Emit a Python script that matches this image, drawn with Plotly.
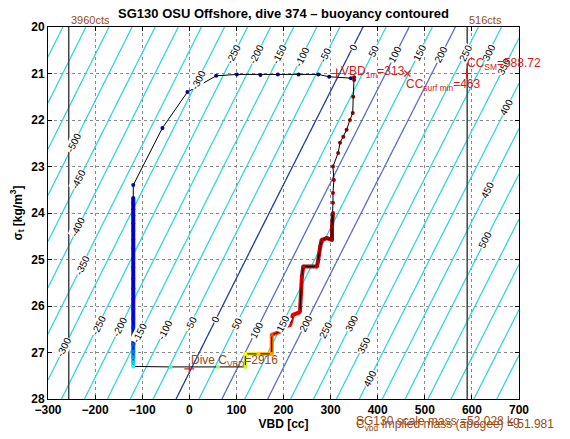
import numpy as np
import plotly.graph_objects as go

# ---------------- text / constants ----------------
title_text = "SG130 OSU Offshore, dive 374 – buoyancy contoured"
scale_mass_kg = 52.028
implied_mass_kg = 51.981
hull_volume_cc = 50639.0      # displaced volume at VBD = 0
vbd_1m = 313
cc_surf_min = 463
cc_sm = 588.72
dive_c_vbd = 2916
vbd_limit_low = -256          # 3960 cts
vbd_limit_high = 590          # 516 cts
marker_sigma = 21.0
apogee_marker_sigma = 27.35

# contour levels (g)
level_start, level_end, level_step = -700, 750, 50

# contour label placements: level and the sigma_t where it sits
label_levels = [-300, -250, -200, -150, -100, -50, 0, 50, 100, 150, 200, 250, 300, 350, 400,
                -500, -450, -400, -350, -300,
                -250, -200, -150, -100, -50, 0, 50, 100, 150, 200, 250, 300, 350, 400,
                450, 500]
label_sigmas = [21.14, 20.60, 20.60, 20.60, 20.65, 20.60, 20.43, 20.51, 20.60, 20.56, 20.60,
                20.56, 20.54, 20.86, 21.72,
                22.49, 23.29, 24.30, 25.12, 26.88,
                26.41, 26.45, 26.58, 26.52, 26.37, 26.30, 26.37, 26.52, 26.37, 26.37, 26.52,
                26.37, 26.84, 27.55,
                23.50, 24.58]

# ---------------- trajectory (VBD [cc], sigma_t) ----------------
surface_vbd = [343, 297, 274, 232, 188, 151, 101, 57, -4, -57, -119]
surface_sig = [21.10, 21.07, 21.02, 21.02, 21.02, 21.03, 21.02, 21.05, 21.40, 22.17, 23.40]
surface_col = [0.00, 0.01, 0.01, 0.02, 0.02, 0.03, 0.03, 0.04, 0.05, 0.06, 0.07]

descent_vbd = [-119, -119, -119, -119, -119, -119, -119, -119, -119, -119, -119, -119,
               -119, -119, -119, -119, -119, -119, -119, -119, -119, -119]
descent_sig = [23.68, 23.78, 23.92, 24.05, 24.22, 24.38, 24.57, 24.76, 24.98, 25.17, 25.41,
               25.62, 25.85, 26.06, 26.28, 26.47, 26.66, 26.83, 26.98, 27.10, 27.21, 27.30]
descent_col = [0.08, 0.08, 0.09, 0.09, 0.09, 0.10, 0.10, 0.10, 0.11, 0.11, 0.11,
               0.12, 0.12, 0.13, 0.14, 0.15, 0.17, 0.20, 0.24, 0.28, 0.33, 0.40]

apogee_vbd = [-40, 61, 119]
apogee_sig = [27.31, 27.31, 27.31]
apogee_col = [0.45, 0.51, 0.56]

ascent_vbd = [119, 147, 175, 175, 193, 199, 214, 220, 231, 235, 239, 242, 271, 273, 278,
              281, 292, 303, 303, 305, 305, 305, 307, 305, 316, 320, 327, 334, 341, 347,
              348, 350, 350]
ascent_sig = [27.03, 27.03, 27.03, 26.62, 26.55, 26.45, 26.41, 26.19, 26.15, 26.12, 25.37,
              25.15, 25.15, 25.05, 24.72, 24.58, 24.54, 24.58, 24.29, 24.00, 23.78, 23.57,
              23.29, 23.00, 22.71, 22.49, 22.36, 22.21, 22.00, 21.85, 21.50, 21.14, 21.08]
ascent_col = [0.62, 0.67, 0.72, 0.80, 0.84, 0.86, 0.87, 0.88, 0.89, 0.90, 0.92, 0.93, 0.94,
              0.94, 0.95, 0.95, 0.96, 0.96, 0.97, 0.97, 0.97, 0.98, 0.98, 0.98, 0.98, 0.99,
              0.99, 0.99, 0.99, 1.00, 1.00, 1.00, 1.00]

path_vbd = surface_vbd + descent_vbd + apogee_vbd + ascent_vbd
path_sig = surface_sig + descent_sig + apogee_sig + ascent_sig
path_col = surface_col + descent_col + apogee_col + ascent_col


def jet(v):
    v = min(max(v, 0.0), 1.0)
    r = min(max(min(4 * v - 1.5, -4 * v + 4.5), 0), 1)
    g = min(max(min(4 * v - 0.5, -4 * v + 3.5), 0), 1)
    b = min(max(min(4 * v + 0.5, -4 * v + 2.5), 0), 1)
    return "rgb(%d,%d,%d)" % (round(r * 255), round(g * 255), round(b * 255))


CYAN = "#35d5d8"
DARKBLUE = "#1d3d9e"
MIDBLUE = "#5a6ec6"
BROWN = "#9c4a14"
RED = "#d42020"
FONT = "Liberation Sans"

# plot-area geometry (px) used for the label rotation
PLOT_W, PLOT_H = 471.6, 372.0
X_RANGE, Y_RANGE = (-300, 700), (28, 20)

# ---------------- buoyancy field ----------------
mass_g = scale_mass_kg * 1000.0
vbd_grid = np.arange(-300, 701, 5.0)
sig_grid = np.arange(20.0, 28.001, 0.05)
V, S = np.meshgrid(vbd_grid, sig_grid)
buoy = (hull_volume_cc + V) * (1000.0 + S) / 1000.0 - mass_g


def vbd_on_level(level, sig):
    return (mass_g + level) / (1.0 + sig / 1000.0) - hull_volume_cc


def pos(level):
    return (level - level_start) / (level_end - level_start)


eps = 0.008
cscale = [[0.0, CYAN]]
for lev, col in [(0, DARKBLUE), (100, MIDBLUE), (200, MIDBLUE)]:
    p = pos(lev)
    cscale += [[p - eps, CYAN], [p - eps / 2, col], [p + eps / 2, col], [p + eps, CYAN]]
cscale.append([1.0, CYAN])

fig = go.Figure()
fig.add_trace(go.Contour(
    x=vbd_grid, y=sig_grid, z=buoy,
    autocontour=False,
    contours=dict(start=level_start, end=level_end, size=level_step,
                  coloring="lines", showlabels=False),
    colorscale=cscale, showscale=False, line=dict(width=1.3),
    hoverinfo="skip",
))

# limit lines
for xv in (vbd_limit_low, vbd_limit_high):
    fig.add_trace(go.Scatter(x=[xv, xv], y=[20, 28], mode="lines",
                             line=dict(color="#444444", width=1.5), showlegend=False,
                             hoverinfo="skip"))

ann = []
# contour labels (rotated along lines, white box cuts the line like clabel)
for lev, sg in zip(label_levels, label_sigmas):
    xv = vbd_on_level(lev, sg)
    slope = -(hull_volume_cc + xv) / (1000.0 + sg)          # dVBD / dsigma
    dx_px = -slope * PLOT_W / (X_RANGE[1] - X_RANGE[0])       # px right per sigma decrease
    dy_px = PLOT_H / (Y_RANGE[0] - Y_RANGE[1])                # px up per sigma decrease
    ang = -np.degrees(np.arctan2(dy_px, dx_px))
    ann.append(dict(x=xv, y=sg, xref="x", yref="y", text=str(lev), showarrow=False,
                    textangle=ang, font=dict(size=10, color="black", family=FONT),
                    bgcolor="white", borderpad=0, xanchor="center", yanchor="middle"))

# thick coloured segments (descent and deep ascent)
n_surf = len(surface_vbd)
n_desc = len(descent_vbd)
n_apo = len(apogee_vbd)
thick_ranges = [(n_surf, n_surf + n_desc - 1),
                (n_surf + n_desc + n_apo - 1, n_surf + n_desc + n_apo + 19)]
for a, b in thick_ranges:
    for i in range(a, b):
        fig.add_trace(go.Scatter(
            x=[path_vbd[i], path_vbd[i + 1]], y=[path_sig[i], path_sig[i + 1]],
            mode="lines", line=dict(color=jet((path_col[i] + path_col[i + 1]) / 2), width=4),
            showlegend=False, hoverinfo="skip"))

# thin black trajectory line
fig.add_trace(go.Scatter(x=path_vbd, y=path_sig, mode="lines",
                         line=dict(color="black", width=1), showlegend=False))
# coloured sample dots
fig.add_trace(go.Scatter(x=path_vbd, y=path_sig, mode="markers",
                         marker=dict(size=4, color=[jet(c) for c in path_col]),
                         showlegend=False))

# special markers
fig.add_trace(go.Scatter(x=[vbd_1m, cc_sm, 0], y=[marker_sigma, marker_sigma, apogee_marker_sigma],
                         mode="markers", marker=dict(symbol="cross-thin", size=7,
                                                     line=dict(color=RED, width=1.2)),
                         showlegend=False))
fig.add_trace(go.Scatter(x=[cc_surf_min], y=[marker_sigma], mode="markers",
                         marker=dict(symbol="x-thin", size=6, line=dict(color=RED, width=1.2)),
                         showlegend=False))

ann.append(dict(x=vbd_1m, y=marker_sigma, xref="x", yref="y", xanchor="left", yanchor="middle",
                xshift=2, yshift=2, showarrow=False,
                text="VBD<sub>1m</sub>=%d" % vbd_1m, font=dict(size=12, color=RED, family=FONT)))
ann.append(dict(x=cc_surf_min, y=marker_sigma, xref="x", yref="y", xanchor="left", yanchor="top",
                xshift=-3, yshift=-1, showarrow=False,
                text="CC<sub>surf min</sub>=%d" % cc_surf_min,
                font=dict(size=12, color=RED, family=FONT)))
ann.append(dict(x=cc_sm, y=marker_sigma, xref="x", yref="y", xanchor="left", yanchor="bottom",
                xshift=-2, yshift=0, showarrow=False,
                text="CC<sub>SM</sub>=%.2f" % cc_sm, font=dict(size=12, color=RED, family=FONT)))
ann.append(dict(x=0, y=apogee_marker_sigma, xref="x", yref="y", xanchor="left", yanchor="bottom",
                xshift=0, yshift=-2, showarrow=False,
                text="Dive C<sub>VBD</sub>=%d" % dive_c_vbd,
                font=dict(size=12, color=BROWN, family=FONT)))
ann.append(dict(x=vbd_limit_low, y=20, xref="x", yref="y", xanchor="left", yanchor="bottom",
                showarrow=False, yshift=-1, text="3960cts", font=dict(size=11, color=BROWN, family=FONT)))
ann.append(dict(x=vbd_limit_high, y=20, xref="x", yref="y", xanchor="left", yanchor="bottom",
                showarrow=False, yshift=-1, text="516cts", font=dict(size=11, color=BROWN, family=FONT)))
ann.append(dict(x=(354 - 47.7) / PLOT_W, y=(399 - 421) / PLOT_H, xref="paper", yref="paper",
                xanchor="left", yanchor="middle", showarrow=False,
                text="SG130 scale mass =%.3f kg" % scale_mass_kg,
                font=dict(size=12, color=BROWN, family=FONT)))
ann.append(dict(x=(354 - 47.7) / PLOT_W, y=(399 - 425) / PLOT_H, xref="paper", yref="paper",
                xanchor="left", yanchor="middle", showarrow=False,
                text="C<sub>vbd</sub> Implied mass (apogee) = %.3f" % implied_mass_kg,
                font=dict(size=12, color=BROWN, family=FONT)))

fig.update_layout(
    width=570, height=439,
    margin=dict(l=47.7, r=50.7, t=27, b=40, autoexpand=False),
    plot_bgcolor="white", paper_bgcolor="white",
    title=dict(text="<b>%s</b>" % title_text, x=0.5, xref="paper", y=1 - 13 / 439,
               yref="container", yanchor="middle", font=dict(size=13, color="black", family=FONT)),
    annotations=ann,
    showlegend=False,
)
axis_common = dict(showline=True, linecolor="black", linewidth=1, mirror="ticks",
                   ticks="inside", ticklen=4, tickcolor="black", automargin=False,
                   showgrid=True, gridcolor="#8a8a8a", griddash="dot", gridwidth=1,
                   zeroline=False,
                   tickfont=dict(size=12, color="black", family=FONT, weight="bold"))
fig.update_xaxes(range=list(X_RANGE), dtick=100, tick0=0,
                 title=dict(text="<b>VBD [cc]</b>", font=dict(size=12, family=FONT, color="black"),
                            standoff=2), **axis_common)
fig.update_yaxes(range=list(Y_RANGE), dtick=1, tick0=20,
                 title=dict(text="<b>σ<sub>t</sub> [kg/m<sup>3</sup>]</b>",
                            font=dict(size=12, family=FONT, color="black"), standoff=6),
                 **axis_common)

fig.write_html("out.html", config={"displayModeBar": False},
               post_script="document.body.style.margin='0';")
